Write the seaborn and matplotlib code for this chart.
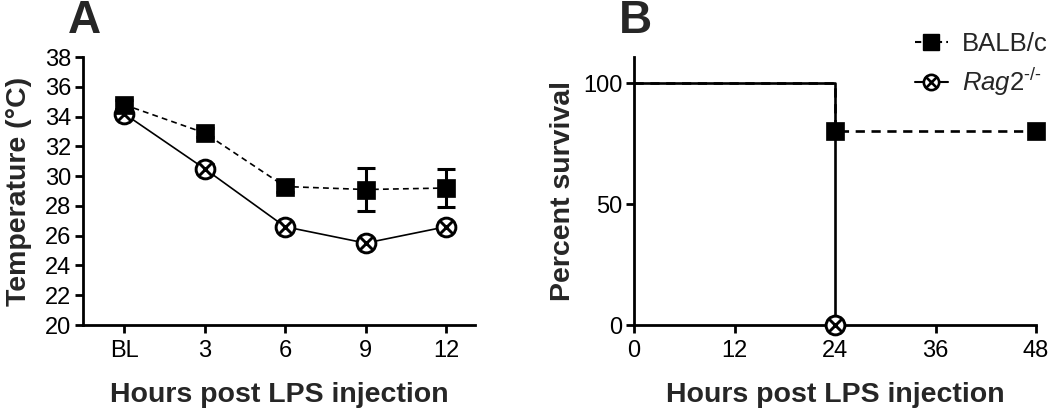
import numpy as np
import pandas as pd
import matplotlib
matplotlib.use("Agg")
import matplotlib.pyplot as plt
import seaborn as sns
from matplotlib.path import Path
from matplotlib.lines import Line2D

# ---- data ----
hours = [0, 3, 6, 9, 12]
hour_labels = ["BL", "3", "6", "9", "12"]
balb_temp = [34.8, 32.9, 29.3, 29.1, 29.2]
balb_sem = [0.3, 0.3, 0.4, 1.45, 1.3]
rag_temp = [34.2, 30.5, 26.6, 25.5, 26.6]
rag_sem = [0.2, 0.3, 0.2, 0.2, 0.2]

temp_yticks = [20, 22, 24, 26, 28, 30, 32, 34, 36, 38]

surv_balb_t = [0, 24, 48]
surv_balb = [100, 80, 80]
surv_rag_t = [0, 24]
surv_rag = [100, 0]
surv_xticks = [0, 12, 24, 36, 48]
surv_yticks = [0, 50, 100]

series_names = ["BALB/c", r"$\mathit{Rag2}^{\text{-/-}}$"]

# ---- style ----
sns.set_style("ticks")
plt.rcParams["font.family"] = ["Liberation Sans", "DejaVu Sans"]
plt.rcParams["mathtext.fontset"] = "custom"
plt.rcParams["mathtext.rm"] = "Liberation Sans"
plt.rcParams["mathtext.it"] = "Liberation Sans:italic"
plt.rcParams["mathtext.bf"] = "Liberation Sans:bold"

SPW = 2.0
TICKFS = 17
LABFS = 20.5

# circle with x marker
d = 0.7071
circ = Path.unit_circle()
xs = Path([(-d, -d), (d, d), (-d, d), (d, -d)],
          [Path.MOVETO, Path.LINETO, Path.MOVETO, Path.LINETO])
otimes = Path.make_compound_path(circ, xs)

fig = plt.figure(figsize=(10.5, 4.15), dpi=100)
axA = fig.add_axes([83 / 1050, 1 - 325 / 415, (475 - 83) / 1050, (325 - 57) / 415])
axB = fig.add_axes([634 / 1050, 1 - 325 / 415, (1036 - 634) / 1050, (325 - 57) / 415])

# ---- panel A ----
axA.errorbar(hours, balb_temp, yerr=balb_sem, fmt="none", ecolor="k",
             elinewidth=2.2, capsize=6.8, capthick=2.2, zorder=2)
axA.errorbar(hours, rag_temp, yerr=rag_sem, fmt="none", ecolor="k",
             elinewidth=2.2, capsize=6.8, capthick=2.2, zorder=2)
sns.lineplot(x=hours, y=rag_temp, ax=axA, color="k", lw=1.2,
             marker=otimes, markersize=13.5, markerfacecolor="white",
             markeredgecolor="k", markeredgewidth=2.1, errorbar=None, zorder=3)
sns.lineplot(x=hours, y=balb_temp, ax=axA, color="k", lw=1.2,
             linestyle=(0, (3.5, 2.5)), marker="s", markersize=13.5,
             markerfacecolor="k", markeredgecolor="k", markeredgewidth=0.5,
             errorbar=None, zorder=4)

axA.set_xlim(-1.53, 13.08)
axA.set_ylim(20, 38)
axA.set_xticks(hours)
axA.set_xticklabels(hour_labels)
axA.set_yticks(temp_yticks)
axA.set_xlabel("Hours post LPS injection", fontsize=LABFS, fontweight="bold", labelpad=15)
axA.set_ylabel("Temperature (°C)", fontsize=LABFS, fontweight="bold", labelpad=9)

# ---- panel B ----
sns.lineplot(x=surv_rag_t, y=surv_rag, ax=axB, color="k", lw=1.9,
             drawstyle="steps-post", marker=otimes, markevery=[1], markersize=13.5,
             markerfacecolor="white", markeredgecolor="k", markeredgewidth=2.1,
             errorbar=None, zorder=3, clip_on=False)
sns.lineplot(x=surv_balb_t, y=surv_balb, ax=axB, color="k", lw=1.9,
             drawstyle="steps-post", linestyle=(0, (3.5, 2.5)),
             marker="s", markevery=[1, 2], markersize=13.5,
             markerfacecolor="k", markeredgecolor="k", markeredgewidth=0.5,
             errorbar=None, zorder=4, clip_on=False)
axB.set_xlim(0, 48)
axB.set_ylim(0, 110.8)
axB.set_xticks(surv_xticks)
axB.set_yticks(surv_yticks)
axB.set_xlabel("Hours post LPS injection", fontsize=LABFS, fontweight="bold", labelpad=15)
axB.set_ylabel("Percent survival", fontsize=LABFS, fontweight="bold", labelpad=5)

for ax in (axA, axB):
    for s in ("top", "right"):
        ax.spines[s].set_visible(False)
    for s in ("left", "bottom"):
        ax.spines[s].set_linewidth(SPW)
        ax.spines[s].set_color("k")
    ax.tick_params(axis="both", length=5.5, width=SPW, labelsize=TICKFS,
                   colors="k", pad=3)
    ax.tick_params(axis="x", pad=5)
    if ax.get_legend() is not None:
        ax.get_legend().remove()

# ---- legend ----
handles = [
    Line2D([], [], color="k", lw=1.5, linestyle=(0, (3, 2)), marker="s",
           markersize=12, markerfacecolor="k", markeredgecolor="k"),
    Line2D([], [], color="k", lw=1.5, marker=otimes, markersize=11,
           markerfacecolor="white", markeredgecolor="k", markeredgewidth=1.9),
]
fig.legend(handles, series_names, loc="upper right", bbox_to_anchor=(1.003, 0.935),
           frameon=False, fontsize=18.5, handlelength=1.3, handletextpad=0.55,
           labelspacing=0.4, borderaxespad=0.0, borderpad=0.2)

# ---- panel letters ----
fig.text(68 / 1050, 1 - 33 / 415, "A", fontsize=33, fontweight="bold", va="baseline")
fig.text(619 / 1050, 1 - 33 / 415, "B", fontsize=33, fontweight="bold", va="baseline")

fig.savefig("out.png", dpi=100)
